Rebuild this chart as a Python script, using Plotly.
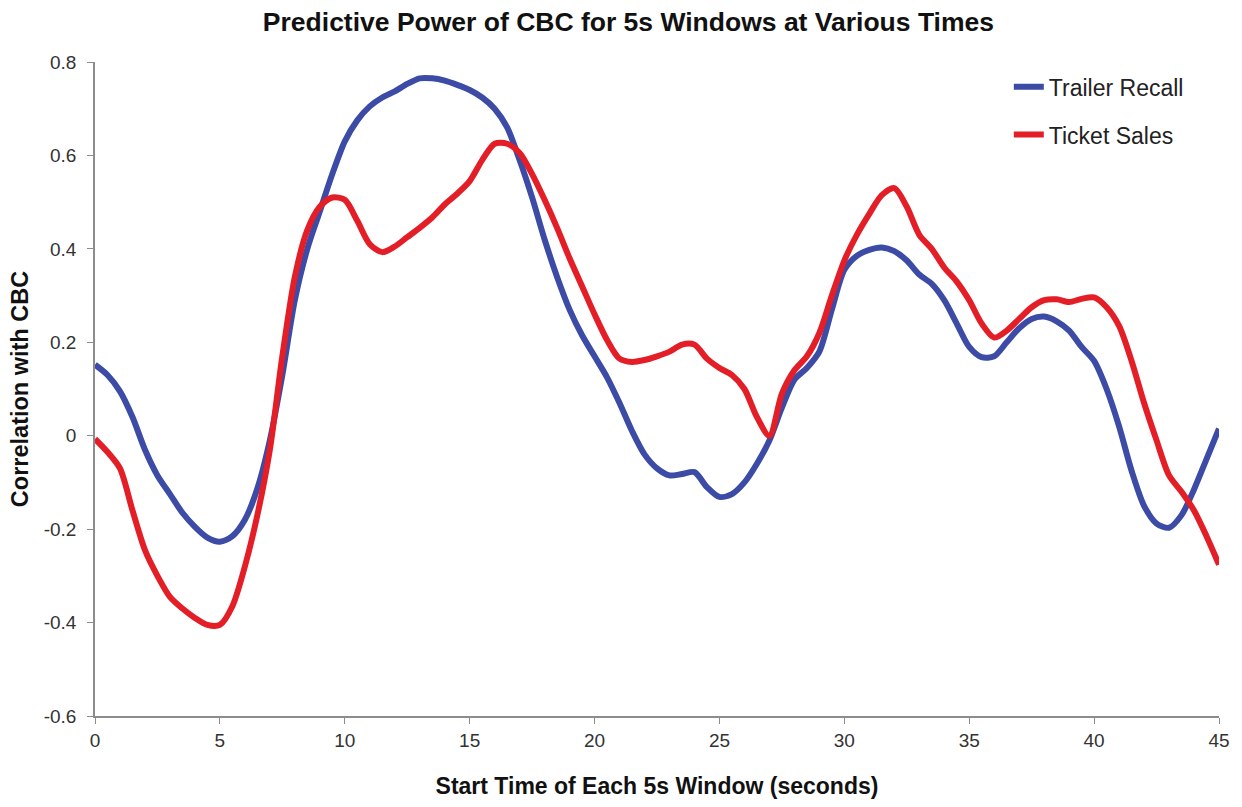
import plotly.graph_objects as go

x_vals = [i * 0.5 for i in range(91)]

trailer_recall = [
    0.152, 0.13, 0.095, 0.04, -0.03, -0.085, -0.125, -0.165, -0.195, -0.218,
    -0.227, -0.215, -0.18, -0.113, -0.01, 0.13, 0.29, 0.40, 0.48, 0.56,
    0.63, 0.675, 0.705, 0.724, 0.737, 0.753, 0.765, 0.765, 0.76, 0.751,
    0.74, 0.724, 0.70, 0.66, 0.59, 0.51, 0.42, 0.34, 0.27, 0.215,
    0.17, 0.125, 0.07, 0.01, -0.04, -0.07, -0.085, -0.082, -0.078, -0.11,
    -0.131, -0.125, -0.1, -0.06, -0.01, 0.06, 0.12, 0.145, 0.18, 0.27,
    0.355, 0.385, 0.398, 0.403, 0.395, 0.375, 0.345, 0.325, 0.29, 0.24,
    0.19, 0.168, 0.17, 0.2, 0.23, 0.25, 0.255, 0.245, 0.225, 0.19,
    0.16, 0.1, 0.02, -0.075, -0.15, -0.188, -0.197, -0.17, -0.115, -0.05,
    0.015,
]

ticket_sales = [
    -0.007, -0.035, -0.07, -0.16, -0.245, -0.3, -0.345, -0.37, -0.39, -0.405,
    -0.405, -0.365, -0.28, -0.17, -0.03, 0.17, 0.34, 0.44, 0.49, 0.51,
    0.505, 0.46, 0.41, 0.393, 0.405, 0.425, 0.445, 0.467, 0.495, 0.518,
    0.545, 0.59, 0.625, 0.625, 0.605, 0.56, 0.505, 0.445, 0.38, 0.32,
    0.26, 0.205, 0.165, 0.158, 0.162, 0.17, 0.18, 0.195, 0.195, 0.165,
    0.145, 0.13, 0.1, 0.04, 0.0, 0.09, 0.14, 0.17, 0.22, 0.3,
    0.375, 0.43, 0.475, 0.515, 0.53, 0.49, 0.43, 0.4, 0.36, 0.33,
    0.29, 0.24, 0.21, 0.225, 0.25, 0.275, 0.29, 0.292, 0.286, 0.293,
    0.296, 0.275, 0.235, 0.16, 0.07, -0.01, -0.085, -0.12, -0.16, -0.215,
    -0.276,
]

x_ticks = [0, 5, 10, 15, 20, 25, 30, 35, 40, 45]
y_ticks = [-0.6, -0.4, -0.2, 0, 0.2, 0.4, 0.6, 0.8]
y_tick_text = ["-0.6", "-0.4", "-0.2", "0", "0.2", "0.4", "0.6", "0.8"]

FONT = "Arial, Liberation Sans, sans-serif"

fig = go.Figure()
fig.add_trace(go.Scatter(
    x=x_vals, y=trailer_recall, mode="lines", name="Trailer Recall",
    legendgroup="a",
    line=dict(color="#3C4BA6", width=6, shape="spline", smoothing=0.8),
))
fig.add_trace(go.Scatter(
    x=x_vals, y=ticket_sales, mode="lines", name="Ticket Sales",
    legendgroup="b",
    line=dict(color="#E41E26", width=6, shape="spline", smoothing=0.8),
))

fig.update_layout(
    width=1242, height=807,
    margin=dict(l=95, r=17, t=62, b=85),
    paper_bgcolor="white", plot_bgcolor="white",
    font=dict(family=FONT, color="#222222"),
    title=dict(
        text="<b>Predictive Power of CBC for 5s Windows at Various Times</b>",
        x=0.506, xanchor="center", y=0.973, yanchor="middle",
        font=dict(size=26.5, family=FONT, color="#111111"),
    ),
    legend=dict(
        x=0.813, y=0.995, xanchor="left", yanchor="top",
        font=dict(size=23, family=FONT, color="#222222"),
        bgcolor="rgba(0,0,0,0)", tracegroupgap=15,
        itemwidth=30,
    ),
    showlegend=True,
)

fig.update_xaxes(
    range=[0, 45], tickvals=x_ticks, showgrid=False, zeroline=False,
    showline=True, linecolor="#8C8C8C", linewidth=1.5,
    ticks="outside", ticklen=6, tickcolor="#8C8C8C",
    tickfont=dict(size=19, family=FONT, color="#333333"),
    title=dict(text="<b>Start Time of Each 5s Window (seconds)</b>",
               font=dict(size=23, family=FONT, color="#111111"), standoff=28),
)
fig.update_yaxes(
    range=[-0.6, 0.8], tickvals=y_ticks, ticktext=y_tick_text,
    showgrid=False, zeroline=False,
    showline=True, linecolor="#8C8C8C", linewidth=1.5,
    ticks="outside", ticklen=6, tickcolor="#8C8C8C", ticklabelstandoff=7,
    tickfont=dict(size=19, family=FONT, color="#333333"),
    title=dict(text="<b>Correlation with CBC</b>",
               font=dict(size=23.5, family=FONT, color="#111111"), standoff=8),
)

fig.write_html(
    "out.html",
    config={"displayModeBar": False},
    post_script=(
        "var s=document.documentElement.style;s.margin='0';s.padding='0';s.overflow='hidden';"
        "var b=document.body.style;b.margin='0';b.padding='0';b.overflow='hidden';"
        "b.width='1242px';b.height='807px';"
    ),
)
